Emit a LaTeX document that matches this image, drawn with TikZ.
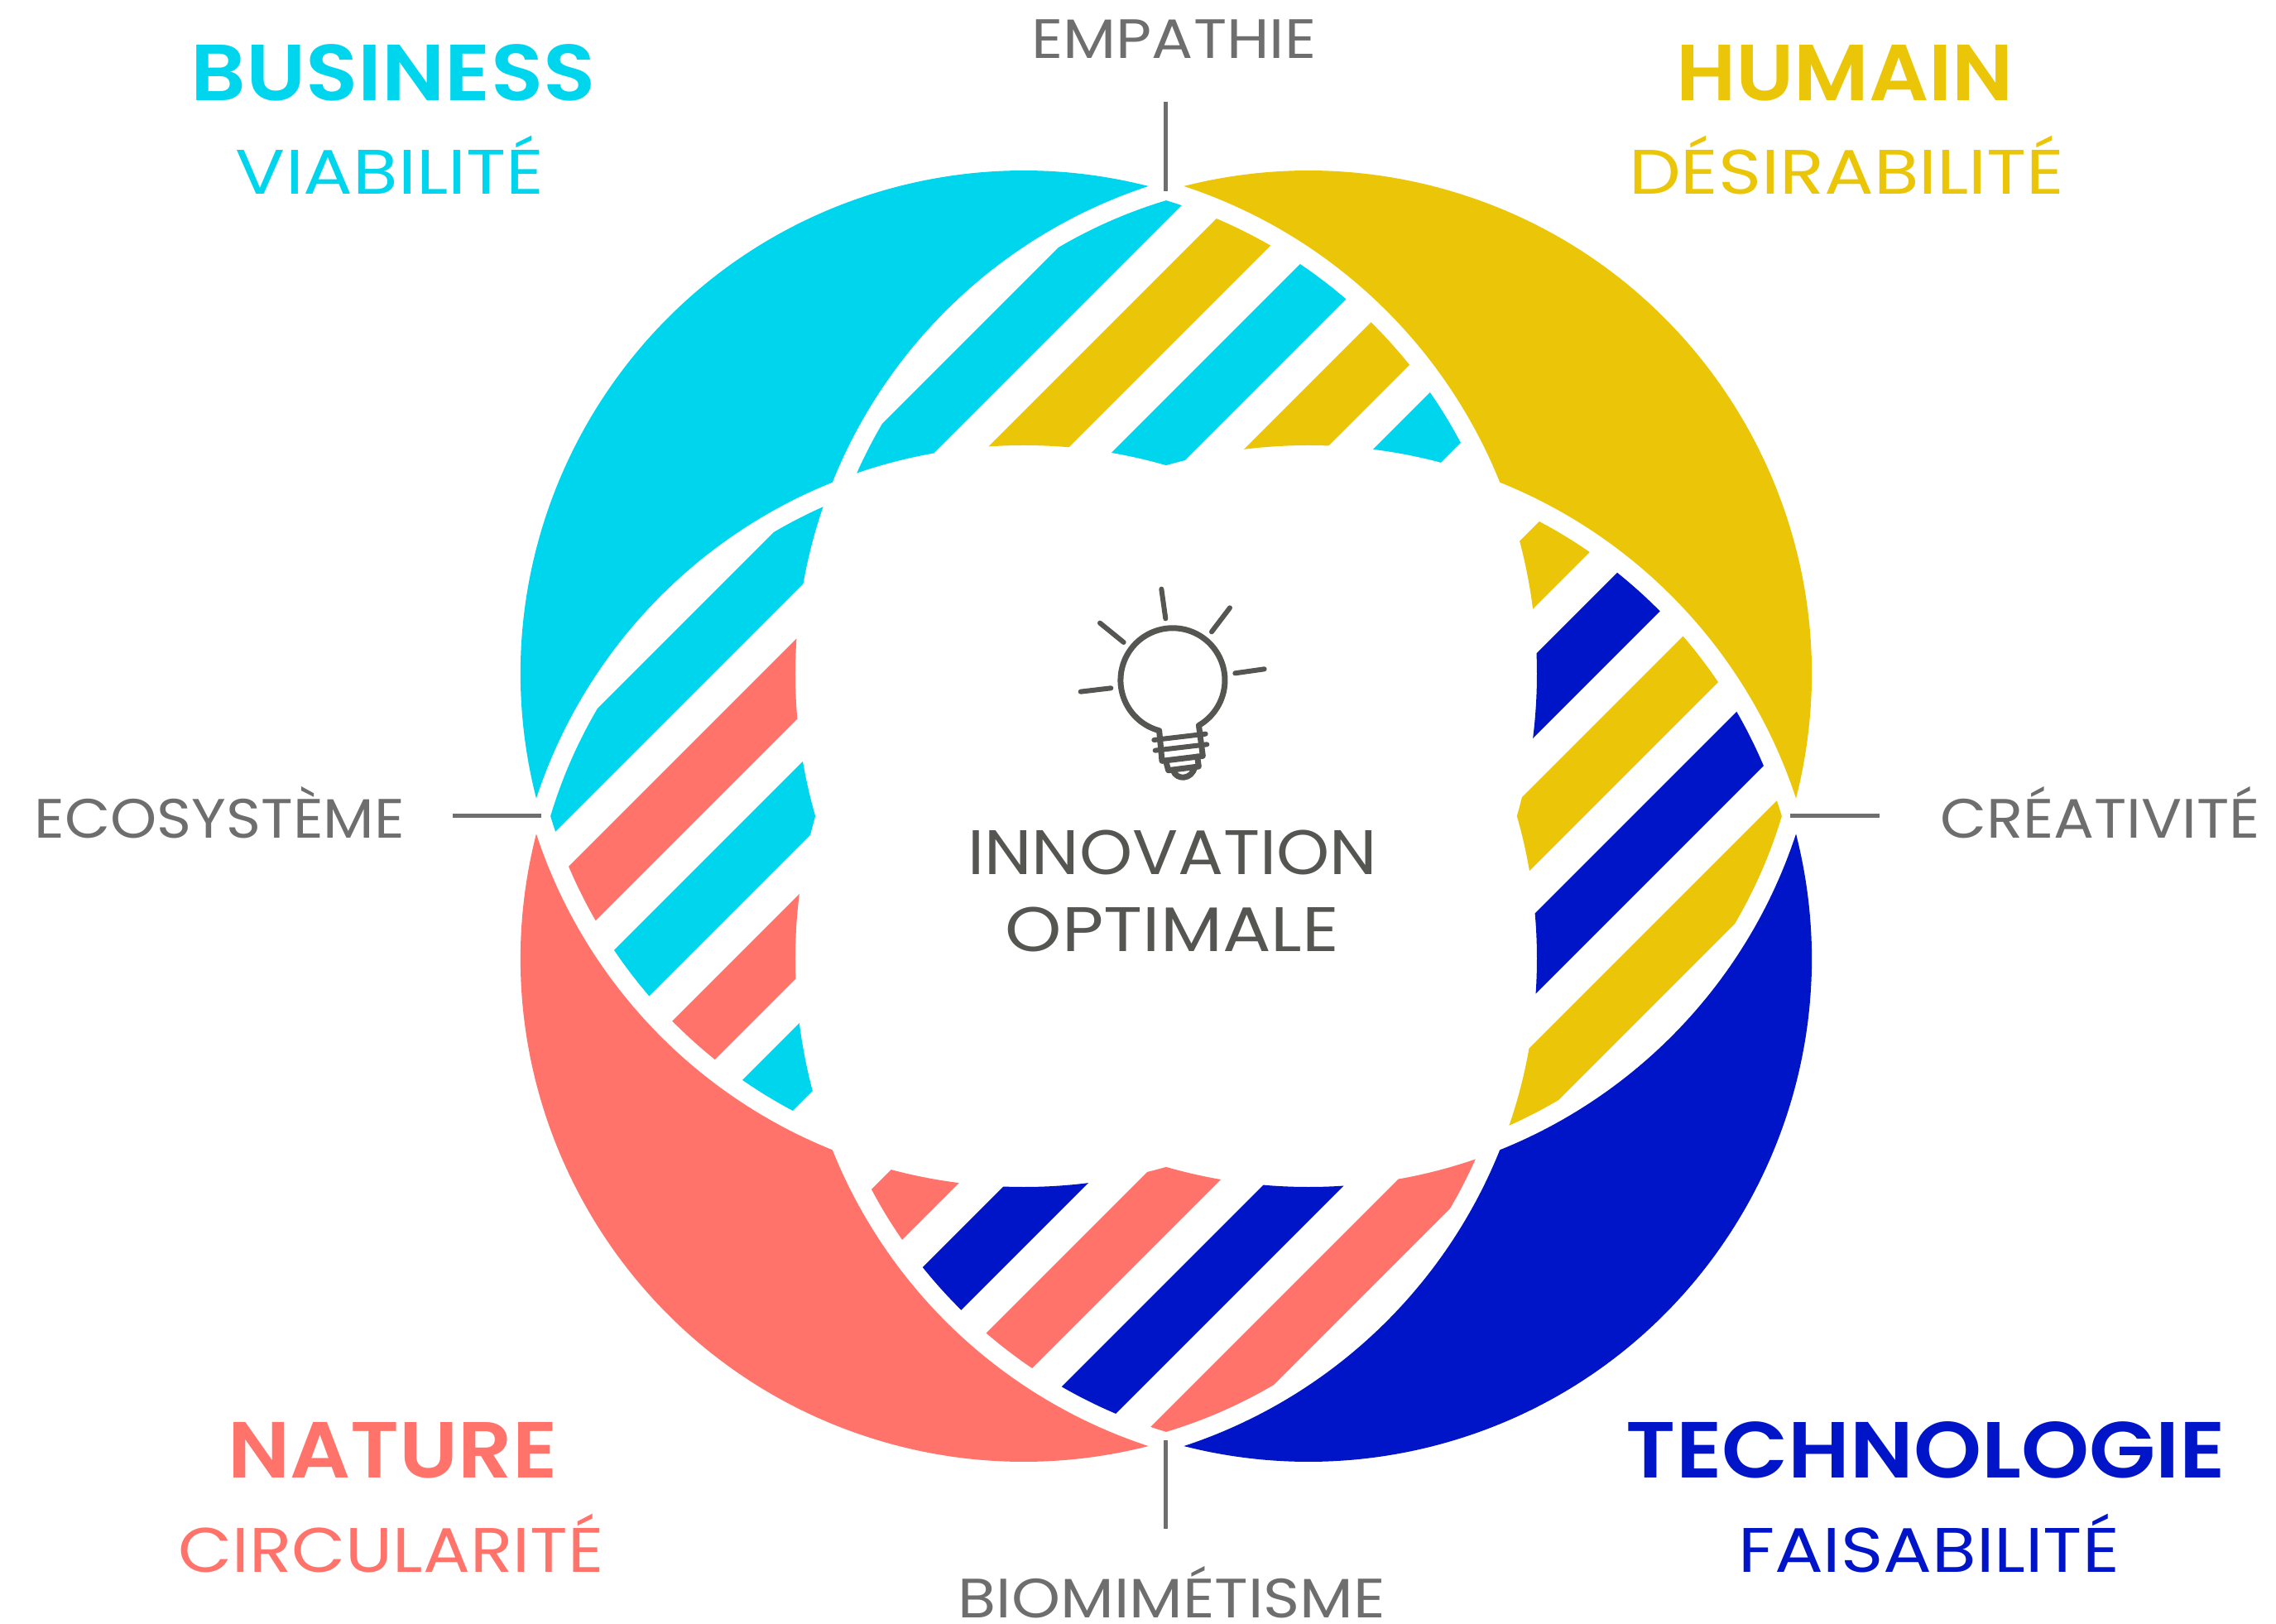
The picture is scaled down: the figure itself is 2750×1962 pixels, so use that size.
\documentclass[tikz,border=0pt]{standalone}
\usepackage{fontspec}
\setmainfont{Poppins}
\newfontfamily\semib{Poppins SemiBold}
\definecolor{cyanc}{HTML}{00D5EE}
\definecolor{yelc}{HTML}{EBC608}
\definecolor{coralc}{HTML}{FF736A}
\definecolor{bluec}{HTML}{0014C8}
\definecolor{greyc}{HTML}{6E6E6E}
\definecolor{darkc}{HTML}{555552}
% one crescent, drawn for the upper right circle; the others are mirror images
\newcommand\crescent[1]{\fill[#1] (21.42,761.06)
  arc[start angle=71.82,end angle=21.90,radius=620]
  arc[start angle=68.10,end angle=18.18,radius=620]
  arc[start angle=-14.34,end angle=104.34,radius=608] -- cycle;}
% one 45 degree band, x-y running from #1 to #2
\newcommand\stripe[3]{\fill[#3] ({(#1)/2-1500},{-(#1)/2-1500}) -- ({(#1)/2+1500},{-(#1)/2+1500})
  -- ({(#2)/2+1500},{-(#2)/2+1500}) -- ({(#2)/2-1500},{-(#2)/2-1500}) -- cycle;}
% clip to the outside of a disc of radius 620: clockwise square, counterclockwise circle
\newcommand\notdisc[2]{\clip (-2000,-2000) -- (-2000,2000) -- (2000,2000) -- (2000,-2000) -- cycle
  ({#1+620},#2) arc[start angle=0,end angle=360,radius=620] -- cycle;}
% a label: name, centre x, baseline y (reference pixels), width, size, colour, font switch, text
\newcommand\lab[8]{\node[inner sep=0pt,anchor=base,text=#6] (#1) at ({#2-1409},{986-#3})
  {\resizebox{#4pt}{\height}{\fontsize{#5}{#5}\selectfont #7\relax #8}};}
\tikzset{
  tick/.style={draw=greyc,line width=5pt},
  bulbline/.style={draw=darkc,line width=7pt,line cap=round,line join=round},
  rayline/.style={draw=darkc,line width=6pt,line cap=round},
  threadline/.style={draw=darkc,line width=6pt,line cap=round}
}
\begin{document}
\begin{tikzpicture}[x=1pt,y=1pt]
\useasboundingbox (-1409,-976) rectangle (1341,986);
% crescents
\crescent{yelc}
\begin{scope}[xscale=-1]\crescent{cyanc}\end{scope}
\begin{scope}[yscale=-1]\crescent{bluec}\end{scope}
\begin{scope}[xscale=-1,yscale=-1]\crescent{coralc}\end{scope}
% top lens
\begin{scope}
  \clip (-172,172) circle[radius=597];
  \clip (172,172) circle[radius=597];
  \notdisc{-172}{-172}
  \notdisc{172}{-172}
  \foreach \ua/\col in {95/cyanc,251/yelc,407/cyanc,563/yelc,719/cyanc}{\stripe{-\ua-98}{-\ua}{\col}}
\end{scope}
% right lens
\begin{scope}
  \clip (172,172) circle[radius=597];
  \clip (172,-172) circle[radius=597];
  \notdisc{-172}{172}
  \notdisc{-172}{-172}
  \foreach \ua/\col in {95/yelc,251/bluec,407/yelc,563/bluec,719/yelc}{\stripe{\ua}{\ua+98}{\col}}
\end{scope}
% bottom lens
\begin{scope}
  \clip (-172,-172) circle[radius=597];
  \clip (172,-172) circle[radius=597];
  \notdisc{-172}{172}
  \notdisc{172}{172}
  \foreach \ua/\col in {95/coralc,251/bluec,407/coralc,563/bluec,719/coralc}{\stripe{\ua}{\ua+98}{\col}}
\end{scope}
% left lens
\begin{scope}
  \clip (-172,172) circle[radius=597];
  \clip (-172,-172) circle[radius=597];
  \notdisc{172}{172}
  \notdisc{172}{-172}
  \foreach \ua/\col in {95/cyanc,251/coralc,407/cyanc,563/coralc,719/cyanc}{\stripe{-\ua-98}{-\ua}{\col}}
\end{scope}
% ticks
\draw[tick] (0,863) -- (0,755);
\draw[tick] (0,-754) -- (0,-861);
\draw[tick] (-862,0) -- (-755,0);
\draw[tick] (754,0) -- (862,0);
% bulb, in the units of a 3x crop whose corner is at reference pixel (1280,690)
\begin{scope}[shift={(-129pt,296pt)},x=0.33333pt,y=-0.33333pt]
  \draw[bulbline] (362,578) arc[start angle=105,end angle=420,radius=189]
     -- (520,670) -- (372,688) -- cycle;
  \draw[threadline] (343,612) -- (530,590);
  \draw[threadline] (347,650) -- (535,628);
  \draw[bulbline] (386,688) -- (395,722) -- (505,708) -- (500,672);
  \draw[bulbline] (412,722) .. controls (425,760) and (480,755) .. (490,712);
  \draw[rayline] (385,172) -- (370,65);
  \draw[rayline] (552,220) -- (618,133);
  \draw[rayline] (637,370) -- (743,355);
  \draw[rayline] (233,258) -- (147,188);
  \draw[rayline] (187,424) -- (77,437);
\end{scope}
% labels
\lab{business}{475}{122}{489}{96}{cyanc}{\semib}{BUSINESS}
\lab{viabilite}{471}{235}{372}{76}{cyanc}{}{VIABILITÉ}
\lab{humain}{2229}{122}{408}{96}{yelc}{\semib}{HUMAIN}
\lab{desir}{2231}{235}{526}{76}{yelc}{}{DÉSIRABILITÉ}
\lab{empathie}{1418.5}{71}{344}{67}{greyc}{}{EMPATHIE}
\lab{eco}{265.5}{1013}{447}{67}{greyc}{}{ECOSYSTÈME}
\lab{crea}{2537.5}{1013}{387}{67}{greyc}{}{CRÉATIVITÉ}
\lab{innov}{1416.7}{1057}{495}{76}{darkc}{}{INNOVATION}
\lab{optim}{1416.5}{1149}{403}{76}{darkc}{}{OPTIMALE}
\lab{nature}{474.5}{1785}{398}{96}{coralc}{\semib}{NATURE}
\lab{circ}{472.5}{1899}{514}{76}{coralc}{}{CIRCULARITÉ}
\lab{techno}{2327}{1785}{724}{96}{bluec}{\semib}{TECHNOLOGIE}
\lab{faisa}{2330.5}{1899}{461}{76}{bluec}{}{FAISABILITÉ}
\lab{biom}{1416}{1954}{516}{67}{greyc}{}{BIOMIMÉTISME}
\end{tikzpicture}
\end{document}
